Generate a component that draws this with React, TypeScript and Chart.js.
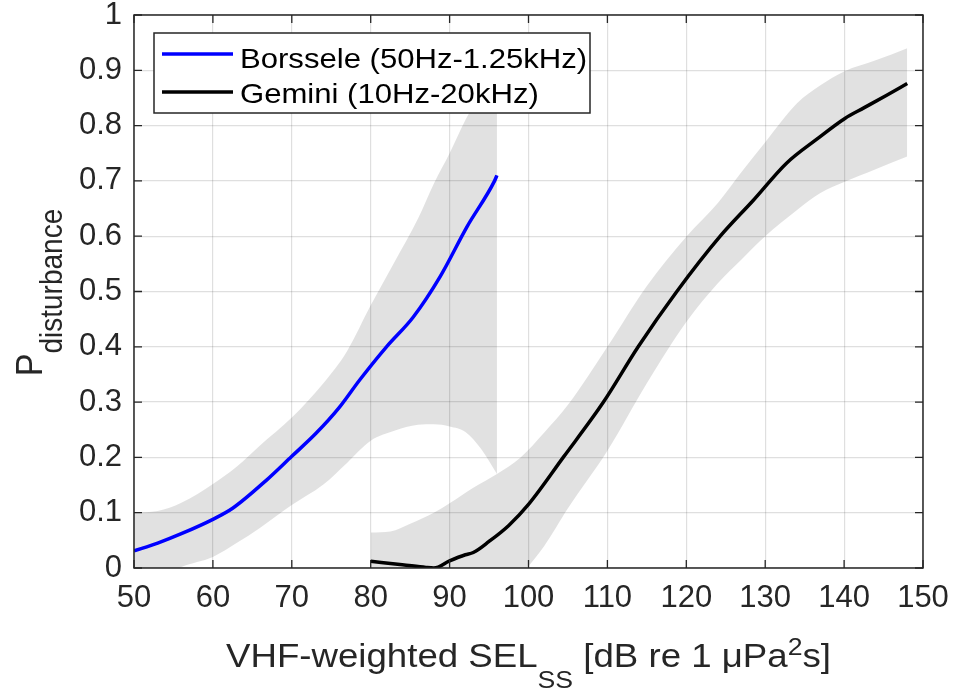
import { useEffect, useRef } from 'react';
import { Chart, registerables } from 'chart.js';

Chart.register(...registerables);

// ---- data ----
const borsseleX = [50, 53, 56, 60, 62.5, 66.8, 70, 73.1, 76, 78.6, 82, 85.4, 88.8, 92.2, 95.7, 96];
const borsseleP = [0.031, 0.045, 0.062, 0.088, 0.108, 0.159, 0.202, 0.244, 0.29, 0.34, 0.4, 0.454, 0.527, 0.617, 0.7, 0.71];

const borsseleBandX = [50, 53, 56, 60, 63, 66, 70, 74, 77, 80, 83, 86, 88, 90, 92, 94, 96];
const borsseleUpper = [0.1, 0.103, 0.118, 0.152, 0.183, 0.222, 0.272, 0.334, 0.392, 0.475, 0.553, 0.632, 0.695, 0.75, 0.81, 0.86, 0.9];
const borsseleLower = [-0.04, -0.02, 0.002, 0.02, 0.045, 0.073, 0.114, 0.151, 0.19, 0.23, 0.248, 0.259, 0.26, 0.256, 0.246, 0.215, 0.17];

const geminiX = [80, 84, 87, 88, 90, 92, 93, 95, 97.5, 100, 104.4, 109.5, 113.9, 118.8, 124.3, 128.5, 132.7, 136.5, 140.1, 142.5, 145.4, 148];
const geminiP = [0.012, 0.006, 0.001, 0.0, 0.013, 0.024, 0.028, 0.048, 0.077, 0.115, 0.2, 0.3, 0.4, 0.5, 0.6, 0.665, 0.732, 0.775, 0.813, 0.832, 0.855, 0.876];

const geminiBandX = [80, 82.5, 85, 88, 90, 93, 96, 99, 102, 105, 110, 115, 120, 124, 127, 130, 134, 137, 140, 144, 148];
const geminiUpper = [0.064, 0.066, 0.08, 0.1, 0.117, 0.145, 0.17, 0.2, 0.245, 0.295, 0.4, 0.51, 0.599, 0.66, 0.716, 0.77, 0.84, 0.873, 0.898, 0.918, 0.94];
const geminiLower = [-0.12, -0.11, -0.09, -0.07, -0.06, -0.045, -0.03, -0.01, 0.04, 0.108, 0.212, 0.334, 0.445, 0.515, 0.558, 0.6, 0.647, 0.678, 0.698, 0.721, 0.744];

const xTickValues = [50, 60, 70, 80, 90, 100, 110, 120, 130, 140, 150];
const yTickValues = [0, 0.1, 0.2, 0.3, 0.4, 0.5, 0.6, 0.7, 0.8, 0.9, 1];

const seriesLabels = ['Borssele (50Hz-1.25kHz)', 'Gemini (10Hz-20kHz)'];
const seriesColors = ['#0000ff', '#000000'];

const xTitleParts = [
  { t: 'VHF-weighted SEL', kind: 'n' },
  { t: 'SS', kind: 'sub' },
  { t: ' [dB re 1 \u03bcPa', kind: 'n' },
  { t: '2', kind: 'sup' },
  { t: 's]', kind: 'n' },
];
const yTitleParts = [
  { t: 'P', kind: 'n' },
  { t: 'disturbance', kind: 'sub' },
];

// ---- style ----
const FONT = '"Liberation Sans", Arial, Helvetica, sans-serif';
const SX = 1.11;
const AXIS_COLOR = '#262626';
const GRID_COLOR = 'rgba(38,38,38,0.15)';
const BAND_COLOR = 'rgba(0,0,0,0.118)';

const toPoints = (xs: number[], ys: number[]) => xs.map((x, i) => ({ x, y: ys[i] }));

const overlayPlugin = {
  id: 'matlabOverlay',
  afterDatasetsDraw(chart: any) {
    const { ctx, chartArea: a, scales } = chart;
    const xs = scales.x;
    const ys = scales.y;
    ctx.save();
    ctx.strokeStyle = AXIS_COLOR;
    ctx.lineWidth = 1.5;
    ctx.strokeRect(a.left, a.top, a.right - a.left, a.bottom - a.top);
    const TL = 8;
    ctx.lineWidth = 1.3;
    ctx.beginPath();
    xTickValues.forEach((v) => {
      const px = xs.getPixelForValue(v);
      ctx.moveTo(px, a.bottom);
      ctx.lineTo(px, a.bottom - TL);
      ctx.moveTo(px, a.top);
      ctx.lineTo(px, a.top + TL);
    });
    yTickValues.forEach((v) => {
      const py = ys.getPixelForValue(v);
      ctx.moveTo(a.left, py);
      ctx.lineTo(a.left + TL, py);
      ctx.moveTo(a.right, py);
      ctx.lineTo(a.right - TL, py);
    });
    ctx.stroke();

    // legend
    const lx = 154, ly = 33, lw = 436, lh = 80;
    ctx.fillStyle = '#ffffff';
    ctx.fillRect(lx, ly, lw, lh);
    ctx.strokeStyle = AXIS_COLOR;
    ctx.lineWidth = 1.5;
    ctx.strokeRect(lx, ly, lw, lh);
    const rows = [{ ly: 54, by: 67.5 }, { ly: 92, by: 103 }];
    seriesLabels.forEach((label, i) => {
      ctx.strokeStyle = seriesColors[i];
      ctx.lineWidth = 3.5;
      ctx.beginPath();
      ctx.moveTo(162, rows[i].ly);
      ctx.lineTo(233, rows[i].ly);
      ctx.stroke();
      ctx.save();
      ctx.translate(240, rows[i].by);
      ctx.scale(SX, 1);
      ctx.fillStyle = '#000000';
      ctx.font = `28px ${FONT}`;
      ctx.textAlign = 'left';
      ctx.textBaseline = 'alphabetic';
      ctx.fillText(label, 0, 0);
      ctx.restore();
    });
    ctx.restore();
  },
  afterDraw(chart: any) {
    const { ctx, chartArea: a } = chart;
    ctx.save();
    ctx.fillStyle = AXIS_COLOR;
    ctx.textBaseline = 'alphabetic';
    ctx.textAlign = 'left';

    // x title
    const xSize: any = { n: 33, sub: 24, sup: 24 };
    const xDy: any = { n: 0, sub: 21, sup: -12 };
    let total = 0;
    const widths = xTitleParts.map((p) => {
      ctx.font = `${xSize[p.kind]}px ${FONT}`;
      const w = ctx.measureText(p.t).width * SX;
      total += w;
      return w;
    });
    let cx = (a.left + a.right) / 2 - total / 2;
    const baseY = 667;
    xTitleParts.forEach((p, i) => {
      ctx.save();
      ctx.font = `${xSize[p.kind]}px ${FONT}`;
      ctx.translate(cx, baseY + xDy[p.kind]);
      ctx.scale(SX, 1);
      ctx.fillText(p.t, 0, 0);
      ctx.restore();
      cx += widths[i];
    });

    // y title (rotated)
    const ySize: any = { n: 34, sub: 28 };
    const yDy: any = { n: 0, sub: 20 };
    let ytotal = 0;
    const ywidths = yTitleParts.map((p) => {
      ctx.font = `${ySize[p.kind]}px ${FONT}`;
      const w = ctx.measureText(p.t).width;
      ytotal += w;
      return w;
    });
    ctx.save();
    ctx.translate(42, (a.top + a.bottom) / 2 + 1);
    ctx.rotate(-Math.PI / 2);
    let cy = -ytotal / 2;
    yTitleParts.forEach((p, i) => {
      ctx.save();
      ctx.font = `${ySize[p.kind]}px ${FONT}`;
      ctx.translate(cy, yDy[p.kind]);
      ctx.scale(1, SX);
      ctx.fillText(p.t, 0, 0);
      ctx.restore();
      cy += ywidths[i];
    });
    ctx.restore();
    ctx.restore();
  },
};

export default function App() {
  const ref = useRef<HTMLCanvasElement>(null);
  useEffect(() => {
    if (!ref.current) return;
    const tickFont = { family: FONT, size: 31 };
    const lineDs = (i: number, xs: number[], ys: number[]) => ({
      label: seriesLabels[i],
      data: toPoints(xs, ys),
      borderColor: seriesColors[i],
      borderWidth: 3.5,
      pointRadius: 0,
      fill: false,
      cubicInterpolationMode: 'monotone',
      order: 0,
    });
    const bandDs = (label: string, xs: number[], ys: number[], fill: any, order: number) => ({
      label,
      data: toPoints(xs, ys),
      borderWidth: 0,
      borderColor: 'rgba(0,0,0,0)',
      backgroundColor: BAND_COLOR,
      pointRadius: 0,
      fill,
      cubicInterpolationMode: 'monotone',
      order,
    });
    const chart = new Chart(ref.current, {
      type: 'line',
      data: {
        datasets: [
          lineDs(0, borsseleX, borsseleP),
          lineDs(1, geminiX, geminiP),
          bandDs('Borssele upper', borsseleBandX, borsseleUpper, '+1', 2),
          bandDs('Borssele lower', borsseleBandX, borsseleLower, false, 3),
          bandDs('Gemini upper', geminiBandX, geminiUpper, '+1', 2),
          bandDs('Gemini lower', geminiBandX, geminiLower, false, 3),
        ],
      },
      options: {
        animation: false,
        responsive: true,
        maintainAspectRatio: false,
        layout: { padding: { top: 15, right: 33, left: 0, bottom: 0 } },
        plugins: { legend: { display: false }, tooltip: { enabled: false } },
        scales: {
          x: {
            type: 'linear',
            min: 50,
            max: 150,
            afterBuildTicks: (s: any) => {
              s.ticks = xTickValues.map((v) => ({ value: v }));
            },
            afterFit: (s: any) => {
              s.height = 122;
              s.paddingLeft = 0;
              s.paddingRight = 0;
            },
            grid: { color: GRID_COLOR, lineWidth: 1.2, drawTicks: false },
            border: { display: false },
            ticks: {
              font: tickFont,
              color: AXIS_COLOR,
              padding: 12,
              maxRotation: 0,
              autoSkip: false,
              callback: (v: any) => String(Math.round(Number(v))),
            },
          },
          y: {
            type: 'linear',
            min: 0,
            max: 1,
            afterBuildTicks: (s: any) => {
              s.ticks = yTickValues.map((v) => ({ value: v }));
            },
            afterFit: (s: any) => {
              s.width = 134;
              s.paddingTop = 0;
              s.paddingBottom = 0;
            },
            grid: { color: GRID_COLOR, lineWidth: 1.2, drawTicks: false },
            border: { display: false },
            ticks: {
              font: tickFont,
              color: AXIS_COLOR,
              padding: 12,
              autoSkip: false,
              callback: (v: any) => String(Number(Number(v).toFixed(1))),
            },
          },
        },
      },
      plugins: [overlayPlugin],
    } as any);
    return () => chart.destroy();
  }, []);
  return (
    <div style={{ position: 'absolute', left: 0, top: 0, width: 956, height: 690, background: '#ffffff' }}>
      <canvas ref={ref} />
    </div>
  );
}
